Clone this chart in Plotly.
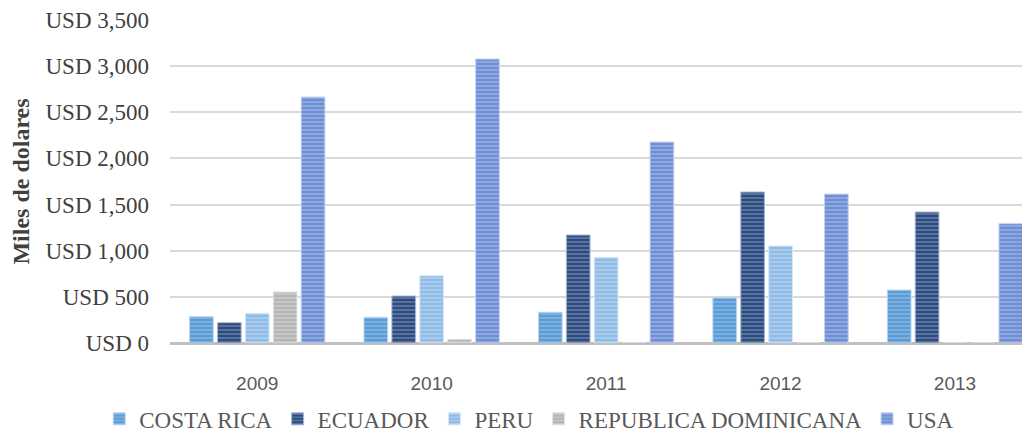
import plotly.graph_objects as go

years = ["2009", "2010", "2011", "2012", "2013"]
costa_rica = [285, 278, 333, 490, 574]
ecuador = [220, 509, 1170, 1636, 1419]
peru = [322, 729, 928, 1051, 0]
rep_dominicana = [553, 40, 0, 0, 0]
usa = [2665, 3077, 2178, 1614, 1293]

series = [
    ("COSTA RICA", costa_rica, "#5b9bd5", "#b9d6f0"),
    ("ECUADOR", ecuador, "#2c4c80", "#a9b8d3"),
    ("PERU", peru, "#8fbbe6", "#d6e7f7"),
    ("REPUBLICA DOMINICANA", rep_dominicana, "#b5b5b5", "#e4e4e4"),
    ("USA", usa, "#6e8fd6", "#c6d3f0"),
]

SERIF = "Liberation Serif, Times New Roman, serif"

fig = go.Figure()
for name, vals, col, light in series:
    fig.add_trace(go.Bar(
        name=name, x=years, y=vals,
        marker=dict(color=col,
                    line=dict(color=light, width=1),
                    pattern=dict(shape="-", fgcolor=light, bgcolor=col,
                                 size=4, solidity=0.35, fillmode="overlay")),
    ))

fig.update_layout(
    width=1022, height=427,
    margin=dict(l=162, r=0, t=12, b=92, autoexpand=False),
    paper_bgcolor="white", plot_bgcolor="white",
    barmode="group", bargap=0.2, bargroupgap=0.15,
    showlegend=True,
    legend=dict(orientation="h", x=0.51, xanchor="center", xref="container",
                y=-0.235, yanchor="middle", yref="paper",
                font=dict(family=SERIF, size=23, color="#595959"),
                itemwidth=30, traceorder="normal"),
    xaxis=dict(type="category", range=[-0.5, 4.43],
               tickfont=dict(family="Liberation Sans", size=19, color="#595959"),
               showgrid=False, showline=False, ticks="", ticklen=0,
               ticklabelstandoff=27),
    yaxis=dict(range=[0, 3500], dtick=500, tickprefix="USD ", tickformat=",",
               tickfont=dict(family=SERIF, size=23, color="#404040"),
               showgrid=True, gridcolor="#d9d9d9", gridwidth=1.5,
               zeroline=True, zerolinecolor="#bfbfbf", zerolinewidth=3,
               ticks="", ticklabelstandoff=20,
               title=dict(text="<b>Miles de dolares</b>", standoff=10,
                          font=dict(family=SERIF, size=24, color="#404040"))),
)

fig.write_html("out.html")
